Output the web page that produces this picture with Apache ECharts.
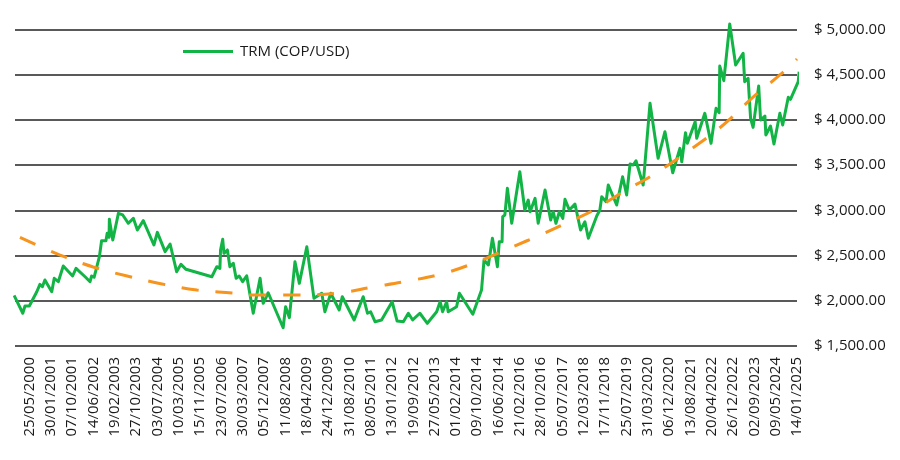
<!DOCTYPE html>
<html>
<head>
<meta charset="utf-8">
<script src="https://cdn.jsdelivr.net/npm/echarts@6/dist/echarts.min.js"></script>
<style>
  html, body { margin: 0; padding: 0; background: #ffffff; }
  #chart { width: 900px; height: 460px; }
</style>
</head>
<body>
<div id="chart"></div>
<script>
// X tick labels (dates shown on the axis, one every 250 days)
const tickLabels = ['25/05/2000','30/01/2001','07/10/2001','14/06/2002','19/02/2003','27/10/2003','03/07/2004','10/03/2005','15/11/2005','23/07/2006','30/03/2007','05/12/2007','11/08/2008','18/04/2009','24/12/2009','31/08/2010','08/05/2011','13/01/2012','19/09/2012','27/05/2013','01/02/2014','09/10/2014','16/06/2014','21/02/2016','28/10/2016','05/07/2017','12/03/2018','17/11/2018','25/07/2019','31/03/2020','06/12/2020','13/08/2021','20/04/2022','26/12/2022','02/09/2023','09/05/2024','14/01/2025'];
const tickStepDays = 250;

// TRM observations: dates as decimal years, values in COP per USD
const trmDates = [1999.90,2000.18,2000.25,2000.39,2000.63,2000.73,2000.81,2000.89,2001.11,2001.19,2001.32,2001.48,2001.78,2001.89,2002.18,2002.34,2002.39,2002.47,2002.64,2002.71,2002.85,2002.89,2002.95,2002.96,2003.07,2003.25,2003.39,2003.57,2003.73,2003.86,2004.05,2004.39,2004.50,2004.75,2004.91,2005.12,2005.26,2005.42,2006.25,2006.41,2006.51,2006.53,2006.60,2006.64,2006.75,2006.83,2006.94,2007.03,2007.13,2007.24,2007.37,2007.58,2007.80,2007.90,2008.06,2008.54,2008.62,2008.74,2008.92,2009.06,2009.30,2009.53,2009.78,2009.88,2010.07,2010.34,2010.44,2010.82,2011.11,2011.25,2011.35,2011.49,2011.70,2012.04,2012.20,2012.40,2012.56,2012.70,2012.93,2013.17,2013.47,2013.58,2013.66,2013.79,2013.84,2014.11,2014.20,2014.63,2014.91,2014.99,2015.13,2015.26,2015.42,2015.48,2015.57,2015.59,2015.66,2015.74,2015.88,2016.14,2016.30,2016.41,2016.47,2016.63,2016.73,2016.95,2017.13,2017.21,2017.30,2017.41,2017.52,2017.59,2017.73,2017.91,2018.09,2018.23,2018.34,2018.61,2018.71,2018.77,2018.91,2018.98,2019.25,2019.44,2019.57,2019.68,2019.78,2019.87,2020.10,2020.32,2020.58,2020.80,2021.05,2021.28,2021.34,2021.46,2021.52,2021.77,2021.82,2022.08,2022.28,2022.44,2022.54,2022.56,2022.69,2022.88,2023.07,2023.31,2023.36,2023.47,2023.55,2023.63,2023.81,2023.87,2024.01,2024.04,2024.19,2024.30,2024.49,2024.58,2024.76,2024.83,2025.08,2025.11];
const trmValues = [2060,1862,1942,1942,2100,2182,2156,2230,2100,2249,2211,2385,2274,2359,2266,2211,2274,2260,2487,2664,2664,2746,2702,2901,2672,2967,2949,2857,2912,2783,2886,2617,2757,2543,2628,2322,2403,2348,2266,2377,2359,2562,2680,2525,2562,2377,2415,2249,2274,2211,2277,1862,2249,1972,2089,1702,1935,1813,2432,2193,2598,2027,2083,1879,2083,1898,2045,1788,2045,1862,1879,1769,1788,1990,1776,1769,1862,1788,1862,1751,1879,1990,1879,1990,1879,1935,2083,1851,2119,2451,2396,2691,2377,2653,2653,2930,2949,3244,2857,3427,3004,3114,2985,3133,2857,3225,2893,2985,2857,2985,2912,3122,3004,3070,2783,2874,2691,2938,3004,3151,3096,3280,3059,3372,3170,3513,3502,3549,3280,4184,3576,3870,3416,3686,3538,3859,3741,3980,3797,4073,3741,4128,4080,4596,4434,5061,4607,4737,4423,4460,4018,3918,4375,3999,4043,3833,3933,3734,4073,3944,4250,4228,4423,4533];

// Trend line
const trendDates = [2000.09,2001.38,2002.44,2003.53,2004.65,2005.77,2006.90,2007.57,2008.98,2010.30,2011.42,2012.55,2013.67,2014.76,2015.82,2016.88,2017.91,2018.46,2019.45,2020.41,2021.51,2022.67,2023.63,2024.49,2025.04];
const trendValues = [2702,2506,2374,2274,2186,2119,2086,2064,2064,2086,2152,2219,2300,2429,2584,2740,2904,2993,3203,3391,3645,3944,4253,4497,4674];

const seriesName = 'TRM (COP/USD)';
const trendName = 'Tendencia';

function toDecimalYear(label) {
  const p = label.split('/');
  const t = Date.UTC(+p[2], +p[1] - 1, +p[0]);
  return 2000 + (t - Date.UTC(2000, 0, 1)) / (365.25 * 86400000);
}
const firstTick = toDecimalYear(tickLabels[0]);
const tickPositions = tickLabels.map((_, k) => firstTick + k * tickStepDays / 365.25);
function labelFor(v) {
  let best = 0, bd = Infinity;
  tickPositions.forEach((p, i) => { const d = Math.abs(p - v); if (d < bd) { bd = d; best = i; } });
  return tickLabels[best];
}

const chart = echarts.init(document.getElementById('chart'), null, { renderer: 'canvas' });
const FONT = '"Open Sans", "Noto Sans", sans-serif';
const TXT = '#1a1a1a';
const GREEN = '#13B446';
const ORANGE = '#F7941D';

chart.setOption({
  animation: false,
  backgroundColor: '#ffffff',
  textStyle: { fontFamily: FONT },
  grid: { left: 15, right: 103, top: 29.5, bottom: 114, containLabel: false },
  legend: {
    data: [{ name: seriesName, icon: 'rect' }],
    left: 183, top: 44, padding: 0,
    itemWidth: 50, itemHeight: 3, itemGap: 10,
    itemStyle: { color: GREEN, borderWidth: 0 },
    textStyle: { fontFamily: FONT, fontSize: 15, color: TXT, padding: [0, 0, 0, 2] }
  },
  xAxis: {
    type: 'value',
    min: 1999.93, max: 2025.04,
    axisLine: { show: false },
    axisTick: { show: false },
    splitLine: { show: false },
    axisLabel: {
      customValues: tickPositions,
      rotate: 90,
      margin: 11,
      fontFamily: FONT, fontSize: 15, color: TXT,
      padding: [7, 0, 0, 0],
      formatter: (v) => labelFor(v)
    }
  },
  yAxis: {
    type: 'value',
    position: 'right',
    min: 1500, max: 5000, interval: 500,
    axisLine: { show: false },
    axisTick: { show: false },
    splitLine: { show: true, lineStyle: { color: '#222222', width: 1.6 } },
    axisLabel: {
      margin: 17,
      fontFamily: FONT, fontSize: 15, color: TXT,
      formatter: (v) => '$ ' + v.toLocaleString('en-US', { minimumFractionDigits: 2, maximumFractionDigits: 2 })
    }
  },
  series: [
    {
      name: seriesName,
      type: 'line',
      symbol: 'none',
      clip: false,
      data: trmDates.map((d, i) => [d, trmValues[i]]),
      lineStyle: { color: GREEN, width: 3, join: 'round' },
      itemStyle: { color: GREEN },
      z: 3
    },
    {
      name: trendName,
      type: 'line',
      symbol: 'none',
      clip: false,
      smooth: 0.4,
      data: trendDates.map((d, i) => [d, trendValues[i]]),
      lineStyle: { color: ORANGE, width: 3, type: [17, 17] },
      itemStyle: { color: ORANGE },
      z: 4
    }
  ]
});
</script>
</body>
</html>
